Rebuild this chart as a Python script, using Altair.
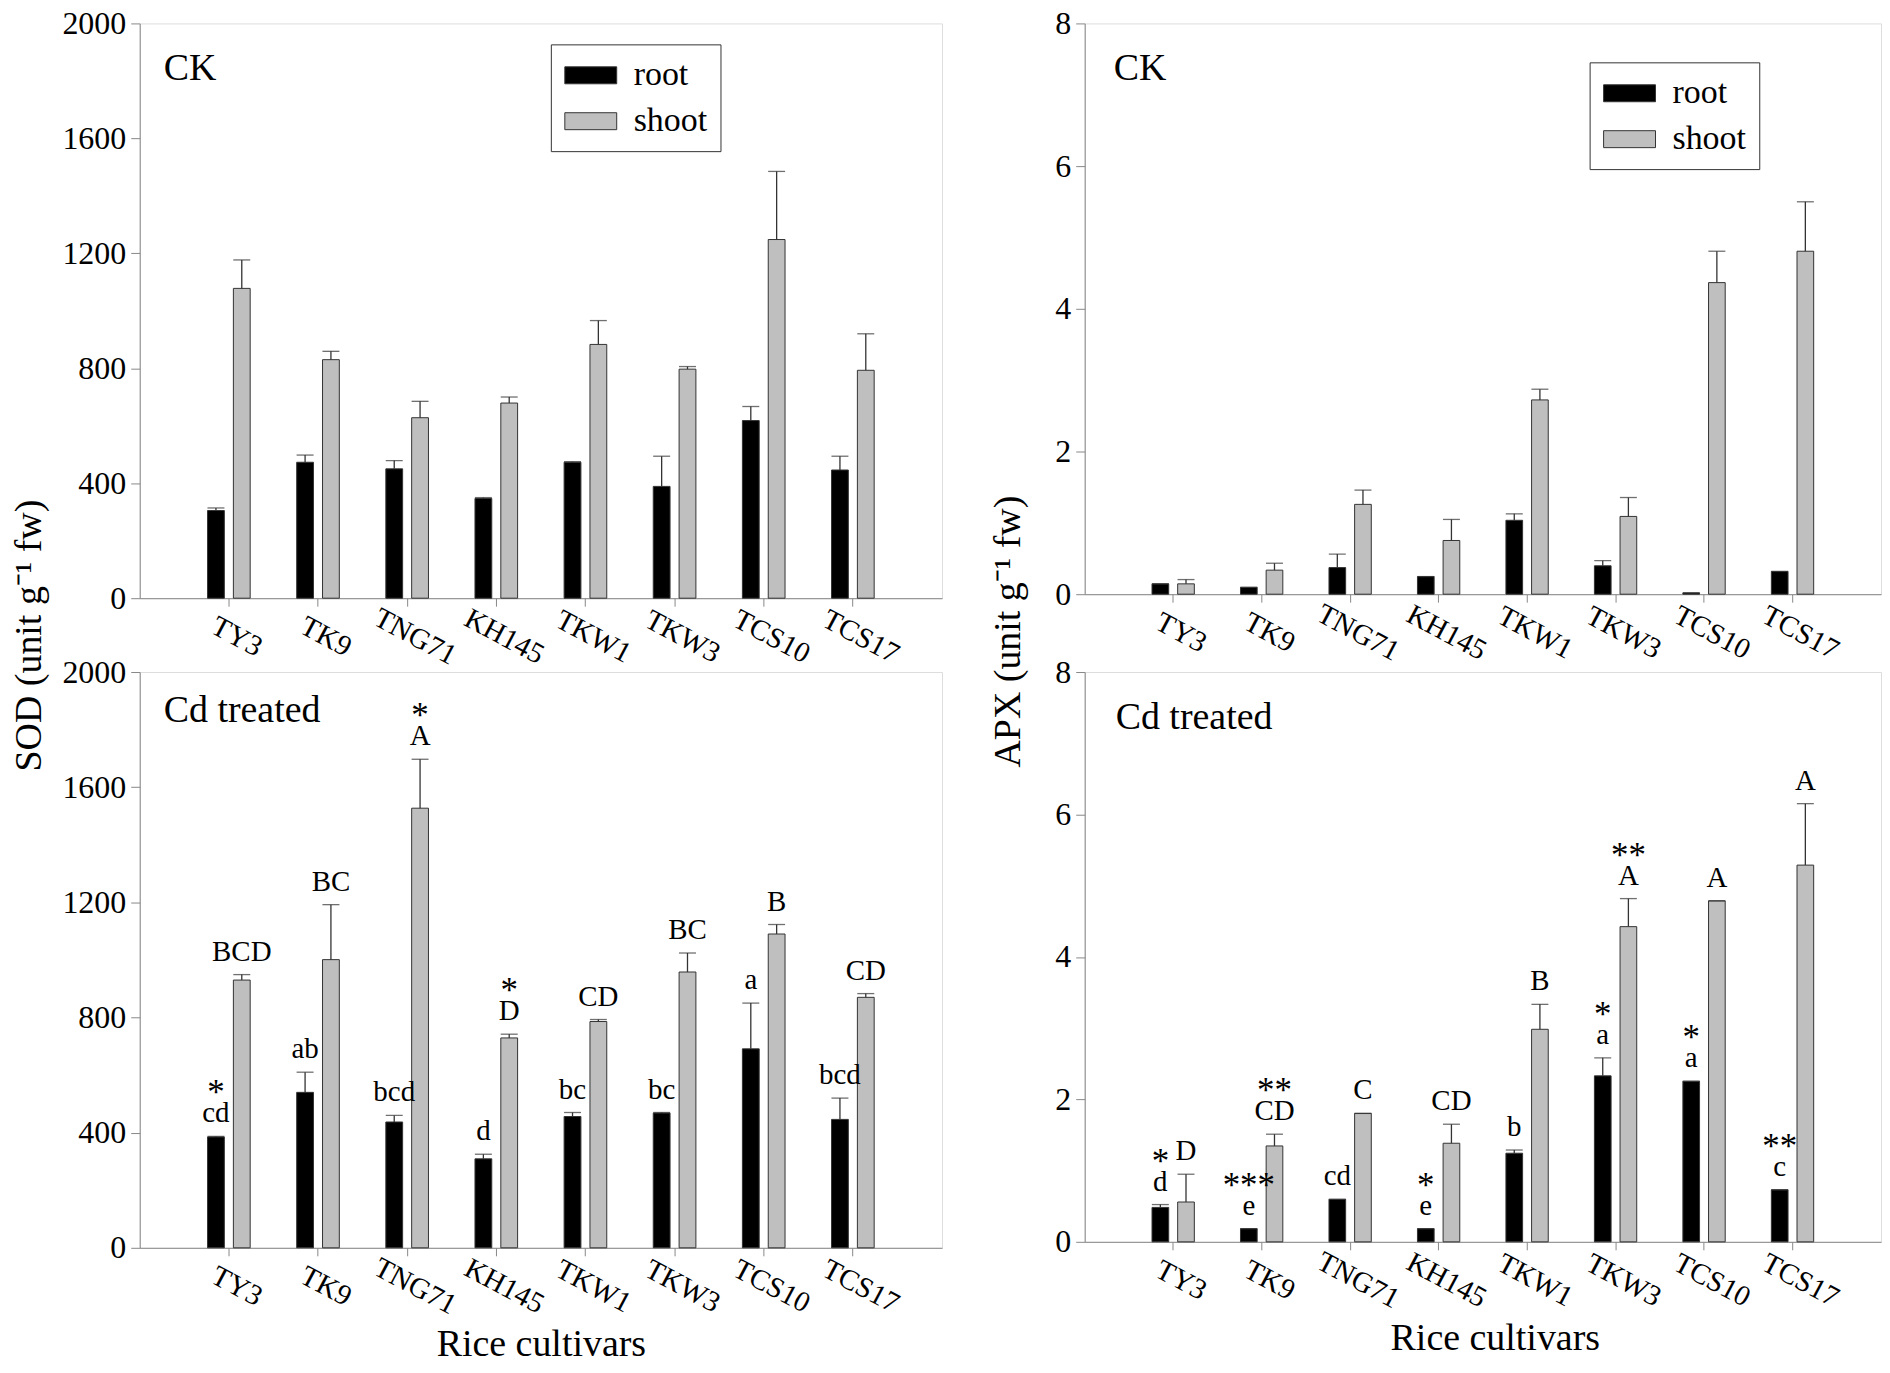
import altair as alt
import pandas as pd

cultivars = ["TY3", "TK9", "TNG71", "KH145", "TKW1", "TKW3", "TCS10", "TCS17"]
parts = ["root", "shoot"]

# SOD, CK
sod_ck_root = [305, 473, 450, 347, 473, 389, 618, 446]
sod_ck_root_err = [9, 25, 29, 3, 2, 105, 49, 48]
sod_ck_shoot = [1078, 830, 628, 679, 883, 797, 1248, 793]
sod_ck_shoot_err = [99, 29, 57, 21, 83, 9, 237, 127]

# SOD, Cd treated
sod_cd_root = [385, 540, 437, 309, 456, 468, 691, 446]
sod_cd_root_err = [2, 70, 23, 16, 14, 2, 159, 74]
sod_cd_shoot = [930, 1001, 1527, 729, 786, 958, 1090, 870]
sod_cd_shoot_err = [19, 191, 170, 13, 7, 66, 33, 13]
sod_cd_root_letters = ["cd", "ab", "bcd", "d", "bc", "bc", "a", "bcd"]
sod_cd_root_stars = ["*", "", "", "", "", "", "", ""]
sod_cd_shoot_letters = ["BCD", "BC", "A", "D", "CD", "BC", "B", "CD"]
sod_cd_shoot_stars = ["", "", "*", "*", "", "", "", ""]

# APX, CK
apx_ck_root = [0.145, 0.096, 0.373, 0.247, 1.036, 0.398, 0.018, 0.319]
apx_ck_root_err = [0, 0, 0.19, 0, 0.09, 0.072, 0, 0]
apx_ck_shoot = [0.145, 0.337, 1.259, 0.753, 2.723, 1.09, 4.367, 4.807]
apx_ck_shoot_err = [0.06, 0.097, 0.2, 0.295, 0.15, 0.265, 0.44, 0.693]

# APX, Cd treated
apx_cd_root = [0.483, 0.184, 0.597, 0.184, 1.244, 2.33, 2.254, 0.73]
apx_cd_root_err = [0.04, 0, 0, 0, 0.045, 0.254, 0, 0]
apx_cd_shoot = [0.559, 1.346, 1.803, 1.384, 2.984, 4.425, 4.787, 5.289]
apx_cd_shoot_err = [0.39, 0.165, 0, 0.267, 0.35, 0.394, 0, 0.863]
apx_cd_root_letters = ["d", "e", "cd", "e", "b", "a", "a", "c"]
apx_cd_root_stars = ["*", "***", "", "*", "", "*", "*", "**"]
apx_cd_shoot_letters = ["D", "CD", "C", "CD", "B", "A", "A", "A"]
apx_cd_shoot_stars = ["", "**", "", "", "", "**", "", ""]

sod_ticks = [0, 400, 800, 1200, 1600, 2000]
apx_ticks = [0, 2, 4, 6, 8]

FONT = "Liberation Serif"
AX = "#444444"


def frame(root, root_err, shoot, shoot_err, rl=None, rs=None, sl=None, ss=None):
    n = len(cultivars)
    rl = rl or [""] * n
    rs = rs or [""] * n
    sl = sl or [""] * n
    ss = ss or [""] * n
    rows = []
    for i, c in enumerate(cultivars):
        rows.append(dict(cultivar=c, part="root", value=root[i], top=root[i] + root_err[i],
                         letter=rl[i], star=rs[i]))
        rows.append(dict(cultivar=c, part="shoot", value=shoot[i], top=shoot[i] + shoot_err[i],
                         letter=sl[i], star=ss[i]))
    return pd.DataFrame(rows)


def panel(df, width, height, ymax, yticks, label, label_xy, ytitle=None, ytitle_pad=15,
          xtitle=None, xtitle_dx=0, legend_xy=None):
    xaxis = alt.Axis(
        title=xtitle if xtitle else None,
        labelAngle=28, labelAlign="center", labelBaseline="middle",
        labelPadding=30, labelOffset=8, labelFontSize=29, labelFont=FONT,
        labelColor="black", tickSize=8, ticks=True, domain=True,
        titleFontSize=38, titleFont=FONT, titleFontWeight="normal",
        titleColor="black", titleBaseline="alphabetic", titleY=108,
        titleX=width / 2 + xtitle_dx,
    )
    x = alt.X("cultivar:N", sort=cultivars,
              scale=alt.Scale(paddingInner=0, paddingOuter=0.5), axis=xaxis)
    xo = alt.XOffset("part:N", sort=parts,
                     scale=alt.Scale(paddingInner=0.35, paddingOuter=0.9))
    yaxis_kw = dict(values=yticks, labelFontSize=32, labelFont=FONT, labelColor="black",
                    tickSize=9, labelPadding=5, grid=False, format="d")
    if ytitle:
        yaxis_kw.update(title=ytitle, titleFontSize=38, titleFont=FONT,
                        titleFontWeight="normal", titleColor="black",
                        titleY=height + 37, titlePadding=ytitle_pad)
    else:
        yaxis_kw.update(title=None)
    yscale = alt.Scale(domain=[0, ymax], nice=False, zero=True)

    def ye(field):
        return alt.Y(field + ":Q", scale=yscale, axis=alt.Axis(**yaxis_kw))

    if legend_xy:
        leg = alt.Legend(
            orient="none", legendX=legend_xy[0], legendY=legend_xy[1], title=None,
            symbolType="M-0.98,-0.49H2.02V0.49H-0.98Z", symbolSize=1202,
            symbolStrokeColor="#333333", symbolStrokeWidth=1,
            labelFontSize=34, labelFont=FONT, labelColor="black", labelOffset=34,
            strokeColor="#333333", fillColor="white", padding=13, rowPadding=11,
        )
    else:
        leg = None
    color = alt.Color("part:N", scale=alt.Scale(domain=parts, range=["#000000", "#bfbfbf"]),
                      legend=leg)

    base = alt.Chart(df)
    bars = base.mark_bar(stroke="#333333", strokeWidth=1).encode(x=x, xOffset=xo, y=ye("value"), color=color)
    rules = base.mark_rule(color="#333333", strokeWidth=1.3).encode(
        x=x, xOffset=xo, y=ye("value"), y2="top:Q")
    caps = base.mark_tick(color="#333333", thickness=1.3, size=17).encode(
        x=x, xOffset=xo, y=ye("top"))
    letters = base.mark_text(baseline="alphabetic", dy=-14, fontSize=29, font=FONT, color="black").encode(
        x=x, xOffset=xo, y=ye("top"), text="letter:N")
    stars = base.mark_text(baseline="alphabetic", dy=-32, fontSize=35, font=FONT, color="black").encode(
        x=x, xOffset=xo, y=ye("top"), text="star:N")
    name = alt.Chart(pd.DataFrame({"label": [label]})).mark_text(
        align="left", baseline="alphabetic", fontSize=38, font=FONT, color="black"
    ).encode(x=alt.value(label_xy[0]), y=alt.value(label_xy[1]), text="label:N")
    return alt.layer(bars, rules, caps, letters, stars, name).properties(width=width, height=height)


sod_ck = frame(sod_ck_root, sod_ck_root_err, sod_ck_shoot, sod_ck_shoot_err)
sod_cd = frame(sod_cd_root, sod_cd_root_err, sod_cd_shoot, sod_cd_shoot_err,
               sod_cd_root_letters, sod_cd_root_stars, sod_cd_shoot_letters, sod_cd_shoot_stars)
apx_ck = frame(apx_ck_root, apx_ck_root_err, apx_ck_shoot, apx_ck_shoot_err)
apx_cd = frame(apx_cd_root, apx_cd_root_err, apx_cd_shoot, apx_cd_shoot_err,
               apx_cd_root_letters, apx_cd_root_stars, apx_cd_shoot_letters, apx_cd_shoot_stars)

p1 = panel(sod_ck, 804, 576, 2000, sod_ticks, "CK", (24, 57), ytitle="SOD (unit g\u207b\u00b9 fw)",
           ytitle_pad=13, legend_xy=(412, 21))
p2 = panel(apx_ck, 798, 572, 8, apx_ticks, "CK", (29, 57), ytitle="APX (unit g\u207b\u00b9 fw)",
           ytitle_pad=27, legend_xy=(506, 39))
p3 = panel(sod_cd, 804, 577, 2000, sod_ticks, "Cd treated", (24, 50), xtitle="Rice cultivars")
p4 = panel(apx_cd, 798, 571, 8, apx_ticks, "Cd treated", (31, 57), xtitle="Rice cultivars", xtitle_dx=12)

chart = alt.concat(p1, p2, p3, p4, columns=2, spacing={"row": 74, "column": 143},
                   bounds="flush").resolve_scale(
    x="independent", y="independent", color="independent", xOffset="independent"
).resolve_legend(color="independent").properties(
    padding={"top": -3, "left": 2, "right": 0, "bottom": 0}
).configure_view(stroke=AX, strokeWidth=2).configure_axis(
    domainColor=AX, domainWidth=2, tickColor=AX, tickWidth=1.5
).configure(background="white")

chart.save("out.html", embed_options={"renderer": "svg", "actions": False})
